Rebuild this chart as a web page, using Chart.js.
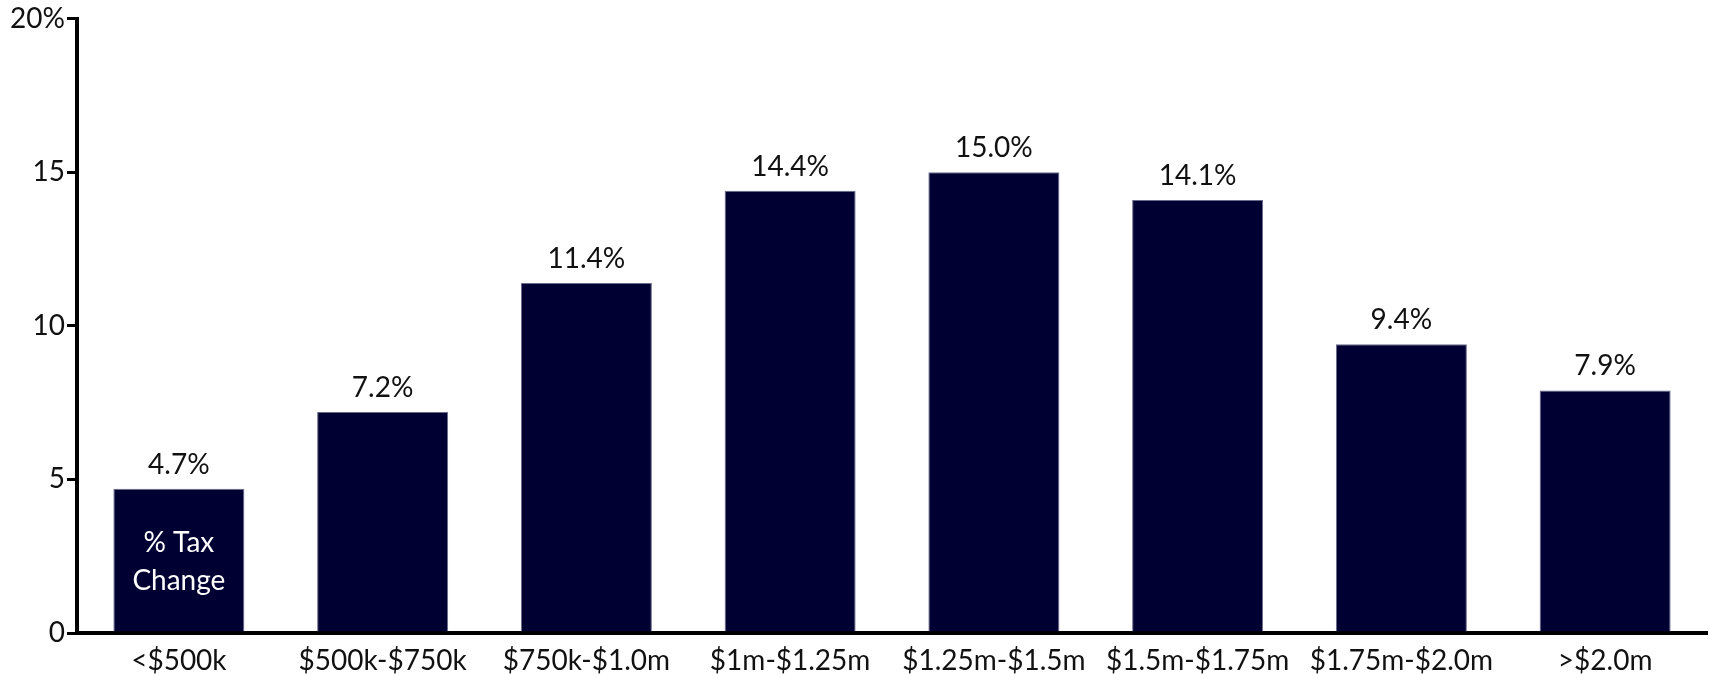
<!DOCTYPE html>
<html>
<head>
<meta charset="utf-8">
<script src="https://cdn.jsdelivr.net/npm/chart.js@4/dist/chart.umd.min.js"></script>
<style>
  html, body { margin: 0; padding: 0; background: #fff; }
  #wrap { width: 1710px; height: 677px; }
</style>
</head>
<body>
<div id="wrap"><canvas id="grafico"></canvas></div>
<script>
// faixas de valor e variacao do imposto
var faixas = ['<$500k', '$500k-$750k', '$750k-$1.0m', '$1m-$1.25m', '$1.25m-$1.5m', '$1.5m-$1.75m', '$1.75m-$2.0m', '>$2.0m'];
var variacao = [4.7, 7.2, 11.4, 14.4, 15.0, 14.1, 9.4, 7.9];
var rotuloSerie = ['% Tax', 'Change'];
var ticksY = [0, 5, 10, 15, 20];

var fonte = "Lato, 'Open Sans', sans-serif";

// escreve os valores em cima das barras e o nome da serie dentro da primeira
var rotulosBarras = {
    id: 'rotulosBarras',
    afterDatasetsDraw(chart) {
        const ctx = chart.ctx;
        const barras = chart.getDatasetMeta(0).data;
        ctx.save();
        ctx.font = '28px ' + fonte;
        ctx.fillStyle = '#111';
        ctx.textAlign = 'center';
        ctx.textBaseline = 'alphabetic';
        barras.forEach((barra, i) => {
            ctx.fillText(variacao[i].toFixed(1) + '%', barra.x, barra.y - 15);
        });
        // nome da serie dentro da barra
        const primeira = barras[0];
        ctx.fillStyle = '#fff';
        ctx.textBaseline = 'middle';
        ctx.fillText(rotuloSerie[0], primeira.x, primeira.y + 54);
        ctx.fillText(rotuloSerie[1], primeira.x, primeira.y + 92);
        ctx.restore();
    }
};

const config = {
    type: 'bar',
    data: {
        labels: faixas,
        datasets: [{
            label: rotuloSerie.join(' '),
            data: variacao,
            backgroundColor: '#000033',
            borderColor: '#6a6a8c',
            borderWidth: 1,
            categoryPercentage: 0.643,
            barPercentage: 1
        }]
    },
    options: {
        responsive: true,
        maintainAspectRatio: false,
        animation: false,
        layout: { padding: { top: 18, right: 3, left: 0, bottom: 0 } },
        plugins: {
            legend: { display: false },
            tooltip: { enabled: false }
        },
        scales: {
            x: {
                grid: { drawOnChartArea: false, drawTicks: false },
                border: { color: '#000', width: 4 },
                ticks: {
                    color: '#111',
                    font: { family: fonte, size: 28 },
                    padding: 11,
                    maxRotation: 0
                },
                afterFit(scale) { scale.height = 44; }
            },
            y: {
                min: 0,
                max: 20,
                afterBuildTicks(scale) {
                    scale.ticks = ticksY.map(v => ({ value: v }));
                },
                grid: { drawOnChartArea: false, drawTicks: true, tickLength: 10, color: '#000', lineWidth: 3 },
                border: { color: '#000', width: 4 },
                ticks: {
                    color: '#111',
                    font: { family: fonte, size: 28 },
                    padding: 2,
                    callback: function (v) { return v == 20 ? '20%' : v; }
                },
                afterFit(scale) { scale.width = 77; }
            }
        }
    },
    plugins: [rotulosBarras]
};

let meuGrafico = new Chart(document.getElementById('grafico'), config);
</script>
</body>
</html>
